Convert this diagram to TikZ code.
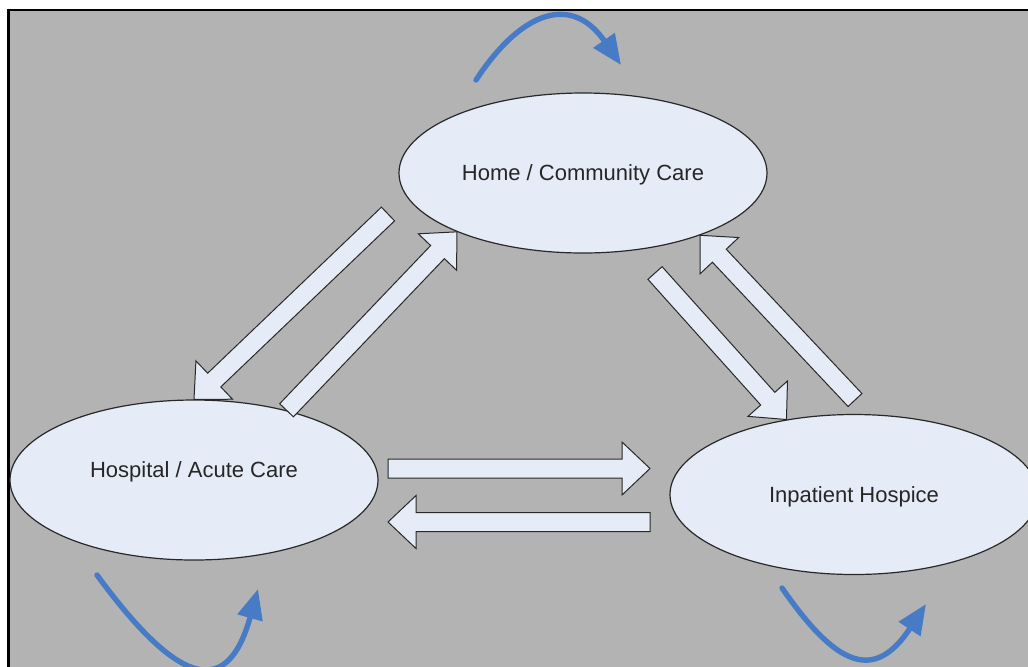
\documentclass[tikz,border=0pt]{standalone}
\usepackage{fontspec}
\setmainfont{Liberation Sans}
\usetikzlibrary{arrows.meta,shapes.geometric,calc}

\definecolor{bggray}{RGB}{179,179,179}
\definecolor{ellfill}{RGB}{230,236,247}
\definecolor{loopblue}{RGB}{72,123,198}
\definecolor{edgegray}{RGB}{40,40,40}

\begin{document}
\begin{tikzpicture}[x=0.5pt, y=-0.5pt,
    settingtext/.style={font=\fontsize{11}{13}\selectfont, text=black!85, text depth=0pt},
    setting/.style={ellipse, draw=edgegray, line width=0.6pt, fill=ellfill,
        minimum width=184pt, minimum height=80pt, inner sep=0pt, settingtext},
    blockarrow/.style={draw=edgegray, line width=0.5pt, fill=ellfill, to path={
        coordinate (ba) at ($(\tikztotarget)!14pt!(\tikztostart)$)
        ($(\tikztostart)!4.75pt!90:(\tikztotarget)$)
        -- ($(ba)!4.75pt!90:(\tikztotarget)$)
        -- ($(ba)!13.25pt!90:(\tikztotarget)$)
        -- (\tikztotarget)
        -- ($(ba)!13.25pt!-90:(\tikztotarget)$)
        -- ($(ba)!4.75pt!-90:(\tikztotarget)$)
        -- ($(\tikztostart)!4.75pt!-90:(\tikztotarget)$)
        -- cycle}},
    swoop/.style={draw=loopblue, line width=2.7pt, line cap=round,
        -{Triangle[length=15pt,width=12.5pt]}}]

    % Page and grey panel with its frame
    \useasboundingbox (0,0) rectangle (1028,666);
    \fill[white] (0,0) rectangle (1028,666);
    \draw[fill=bggray, line width=1.3pt] (8.5,10) rectangle (1040,680);

    % The three care settings
    \node[setting] (home) at (583,173) {Home / Community Care};
    \node[setting, label={[settingtext, yshift=5.25pt]center:Hospital / Acute Care}] (hosp) at (194,480) {};
    \node[setting] (hospice) at (854,494.5) {Inpatient Hospice};

    % Free ends of the block arrows
    \coordinate (toHospA) at (388,214);
    \coordinate (toHospiceA) at (655,273);
    \coordinate (toHomeB) at (855,400);
    \coordinate (acrossA) at (388,468.5);
    \coordinate (acrossB) at (650,468.5);
    \coordinate (backA) at (650,522);
    \coordinate (backB) at (388,522);

    % Transfers between home and hospital
    \draw[blockarrow] (toHospA) to (hosp.north);
    \draw[blockarrow] (hosp.37) to (home.205);

    % Transfers between hospital and hospice
    \draw[blockarrow] (acrossA) to (acrossB);
    \draw[blockarrow] (backA) to (backB);

    % Transfers between home and hospice
    \draw[blockarrow] (toHospiceA) to (hospice.132);
    \draw[blockarrow] (toHomeB) to (home.-28);

    % Blue loops: staying in the same setting
    \coordinate (homeloopa) at (476,80);
    \coordinate (homeloopb) at (621,65);
    \coordinate (hosploopa) at (97,575);
    \coordinate (hosploopb) at (258,589);
    \coordinate (hospiceloopa) at (782,588);
    \coordinate (hospiceloopb) at (926,604);
    \draw[swoop] (homeloopa) .. controls (522,10) and (572,-6) .. (homeloopb);
    \draw[swoop] (hosploopa) .. controls (174,680) and (226,704) .. (hosploopb);
    \draw[swoop] (hospiceloopa) .. controls (836,666) and (874,683) .. (hospiceloopb);
\end{tikzpicture}
\end{document}
